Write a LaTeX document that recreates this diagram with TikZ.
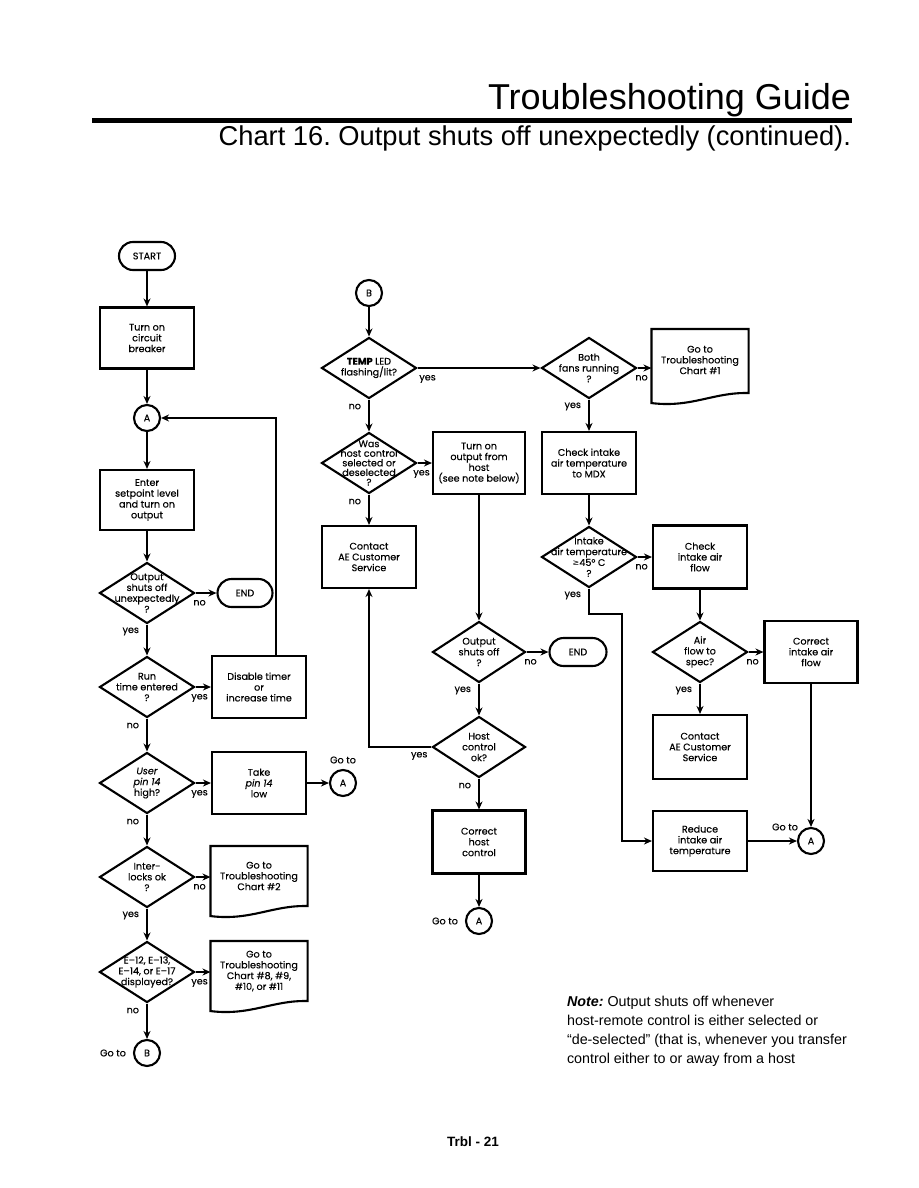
\documentclass[tikz,border=0pt]{standalone}
\usepackage{fontspec}
\setmainfont{Liberation Sans}
\newfontfamily\chartfont[Ligatures=TeX,FakeBold=0.3]{Poppins}
\newfontfamily\symbfont{DejaVu Sans}
\usetikzlibrary{arrows.meta,positioning,shapes.geometric}
\frenchspacing
\newcommand{\docedge}[1]{\draw (#1.south west) -- (#1.north west) -- (#1.north east)
 -- ([yshift=10pt]#1.south east)
 .. controls ([xshift=-35pt,yshift=11pt]#1.south east) and ([xshift=40pt,yshift=-5pt]#1.south west) .. (#1.south west) -- cycle;}

\begin{document}
\begin{tikzpicture}[x=1pt,y=-1pt,>={Stealth[length=8pt,width=7pt]},line width=2.1pt,
 every node/.style={font=\chartfont\fontsize{9.6}{10.8}\selectfont,align=center},
 procbox/.style={draw,minimum width=94pt,minimum height=62pt,inner sep=1pt},
 decision/.style={draw,diamond,minimum width=95pt,minimum height=61pt,inner sep=0pt},
 terminal/.style={draw,rounded corners=14pt,minimum width=56pt,minimum height=28pt,inner sep=0pt},
 connector/.style={draw,circle,minimum size=26pt,inner sep=0pt},
 docbox/.style={minimum width=95pt,minimum height=68pt,inner sep=0pt},
 rightlab/.style={inner sep=1pt,at start,anchor=north,xshift=4pt,yshift=-5pt},
 downlab/.style={inner sep=1pt,at start,anchor=east,xshift=-6pt,yshift=-7pt},
 leftlab/.style={inner sep=1pt,at start,anchor=north east,xshift=-2pt,yshift=-3pt}]
\useasboundingbox (0,0) rectangle (918,1188);

\node[font=\fontsize{36}{40}\selectfont,anchor=base east,inner sep=0pt] (title) at (852,110) {Troubleshooting Guide};
\draw[line width=5pt] (92,121) -- (852,121);
\node[font=\fontsize{27.3}{30}\selectfont,anchor=base east,inner sep=0pt] (subtitle) at (852,146) {Chart 16. Output shuts off unexpectedly (continued).};

\node[terminal] (start) at (147,256) {START};
\node[procbox,minimum height=61pt] (breaker) at (147,338) {Turn on\\circuit\\breaker};
\node[connector] (conA1) at (147,418) {A};
\node[procbox,minimum height=60pt] (setpoint) at (147,500) {Enter\\setpoint level\\and turn on\\output};
\node[decision,label={center:{Output\\shuts off\\unexpectedly\\?}}] (qshut) at (147,593) {};
\node[terminal,minimum width=55pt] (end1) at (245,593) {END};
\node[decision,label={center:{Run\\time entered\\?}}] (qrun) at (147,687) {};
\node[procbox] (timer) at (259,687) {Disable timer\\or\\increase time};
\node[decision,label={center:{\textit{User}\\\textit{pin 14}\\high?}}] (qpin) at (147,783) {};
\node[procbox] (takepin) at (259,783) {Take\\\textit{pin 14}\\low};
\node[connector] (goA1) at (343,783) {A};
\node (goto1) at (343,760) {Go to};
\node[decision,label={center:{Inter-\\locks ok\\?}}] (qlocks) at (147,877) {};
\node[docbox,label={[yshift=5pt]center:{Go to\\Troubleshooting\\Chart \#2}}] (chart2) at (259,881) {};
\node[decision,label={center:{E--12, E--13,\\E--14, or E--17\\displayed?}}] (qerr) at (147,972) {};
\node[docbox,label={[yshift=5pt]center:{Go to\\Troubleshooting\\Chart \#8, \#9,\\\#10, or \#11}}] (chart8) at (259,976) {};
\node[connector] (goB) at (147,1053) {B};
\node (goto2) at (113,1053) {Go to};

\node[connector] (conB) at (369,293) {B};
\node[decision,label={center:{\textbf{TEMP} LED\\flashing/lit?}}] (qtemp) at (369,368) {};
\node[decision,label={[font=\chartfont\fontsize{9.6}{9.6}\selectfont]center:{Was\\host control\\selected or\\deselected\\?}}] (qhost) at (369,463) {};
\node[procbox,minimum width=92pt] (hostout) at (479,463) {Turn on\\output from\\host\\(see note below)};
\node[procbox] (aecs1) at (369,557) {Contact\\AE Customer\\Service};
\node[decision,minimum width=93pt,label={center:{Output\\shuts off\\?}}] (qoff) at (479,652) {};
\node[terminal,minimum width=57pt] (end2) at (578,652) {END};
\node[decision,minimum width=93pt,label={center:{Host\\control\\ok?}}] (qhostok) at (479,747) {};
\node[procbox,minimum width=93pt,minimum height=63pt] (corhost) at (479,842) {Correct\\host\\control};
\node[connector] (goA2) at (479,921) {A};
\node (goto3) at (445,921) {Go to};

\node[decision,label={center:{Both\\fans running\\?}}] (qfans) at (589,368) {};
\node[docbox,minimum height=72pt,label={[yshift=6pt]center:{Go to\\Troubleshooting\\Chart \#1}}] (chart1) at (700,366) {};
\node[procbox] (checktemp) at (589,463) {Check intake\\air temperature\\to MDX};
\node[decision,label={center:{Intake\\air temperature\\{\symbfont\fontsize{8}{8}\selectfont ≥}45° C\\?}}] (qintake) at (589,557) {};
\node[procbox,minimum height=63pt] (checkflow) at (700,557) {Check\\intake air\\flow};
\node[decision,label={center:{Air\\flow to\\spec?}}] (qflow) at (700,652) {};
\node[procbox,minimum width=93pt] (corflow) at (811,652) {Correct\\intake air\\flow};
\node[procbox,minimum height=64pt] (aecs2) at (700,747) {Contact\\AE Customer\\Service};
\node[procbox,minimum height=60pt] (reduce) at (700,841) {Reduce\\intake air\\temperature};
\node[connector] (goA3) at (811,841) {A};
\node (goto4) at (785,827) {Go to};

\docedge{chart1}
\docedge{chart2}
\docedge{chart8}

\draw[->] (start) -- (breaker);
\draw[->] (breaker) -- (conA1);
\draw[->] (conA1) -- (setpoint);
\draw[->] (setpoint) -- (qshut.north);
\draw[->] (qshut.east) -- node[rightlab] (n1) {no} (end1.west);
\draw[->] (qshut.south) -- node[downlab] (y1) {yes} (qrun.north);
\draw[->] (qrun.east) -- node[rightlab] (y2) {yes} (timer.west);
\draw[->] ([xshift=17pt]timer.north) |- (conA1.east);
\draw[->] (qrun.south) -- node[downlab] (n2) {no} (qpin.north);
\draw[->] (qpin.east) -- node[rightlab] (y3) {yes} (takepin.west);
\draw[->] (takepin) -- (goA1);
\draw[->] (qpin.south) -- node[downlab] (n3) {no} (qlocks.north);
\draw[->] (qlocks.east) -- node[rightlab] (n4) {no} (qlocks.east -| chart2.west);
\draw[->] (qlocks.south) -- node[downlab] (y4) {yes} (qerr.north);
\draw[->] (qerr.east) -- node[rightlab] (y5) {yes} (qerr.east -| chart8.west);
\draw[->] (qerr.south) -- node[downlab] (n5) {no} (goB);

\draw[->] (conB) -- (qtemp.north);
\draw[->] (qtemp.east) -- node[rightlab,xshift=6pt] (y6) {yes} (qfans.west);
\draw[->] (qtemp.south) -- node[downlab] (n6) {no} (qhost.north);
\draw[->] (qhost.east) -- node[rightlab] (y7) {yes} (hostout.west);
\draw[->] (qhost.south) -- node[downlab] (n7) {no} (aecs1.north);
\draw[->] (hostout.south) -- (qoff.north);
\draw[->] (qoff.east) -- node[rightlab] (n8) {no} (end2.west);
\draw[->] (qoff.south) -- node[downlab] (y8) {yes} (qhostok.north);
\draw[->] (qhostok.west) -| node[leftlab] (y9) {yes} (aecs1.south);
\draw[->] (qhostok.south) -- node[downlab] (n9) {no} (corhost.north);
\draw[->] (corhost) -- (goA2);

\draw[->] (qfans.east) -- node[rightlab] (n10) {no} (qfans.east -| chart1.west);
\draw[->] (qfans.south) -- node[downlab] (y10) {yes} (checktemp.north);
\draw[->] (checktemp) -- (qintake.north);
\draw[->] (qintake.east) -- node[rightlab] (n11) {no} (checkflow.west);
\draw[->] (qintake.south) |- node[downlab] (y11) {yes} ++(33,25) |- (reduce.west);
\draw[->] (checkflow) -- (qflow.north);
\draw[->] (qflow.east) -- node[rightlab] (n12) {no} (corflow.west);
\draw[->] (qflow.south) -- node[downlab] (y12) {yes} (aecs2.north);
\draw[->] (corflow) -- (goA3);
\draw[->] (reduce) -- (goA3);

\node[font=\fontsize{14.3}{19}\selectfont,align=left,anchor=north west,inner sep=0pt] (note) at (566,995)
 {\textbf{\textit{Note:}} Output shuts off whenever\\host-remote control is either selected or\\“de-selected" (that is, whenever you transfer\\control either to or away from a host};
\node[font=\bfseries\fontsize{13.5}{16}\selectfont] (page) at (473,1142) {Trbl - 21};
\end{tikzpicture}
\end{document}
